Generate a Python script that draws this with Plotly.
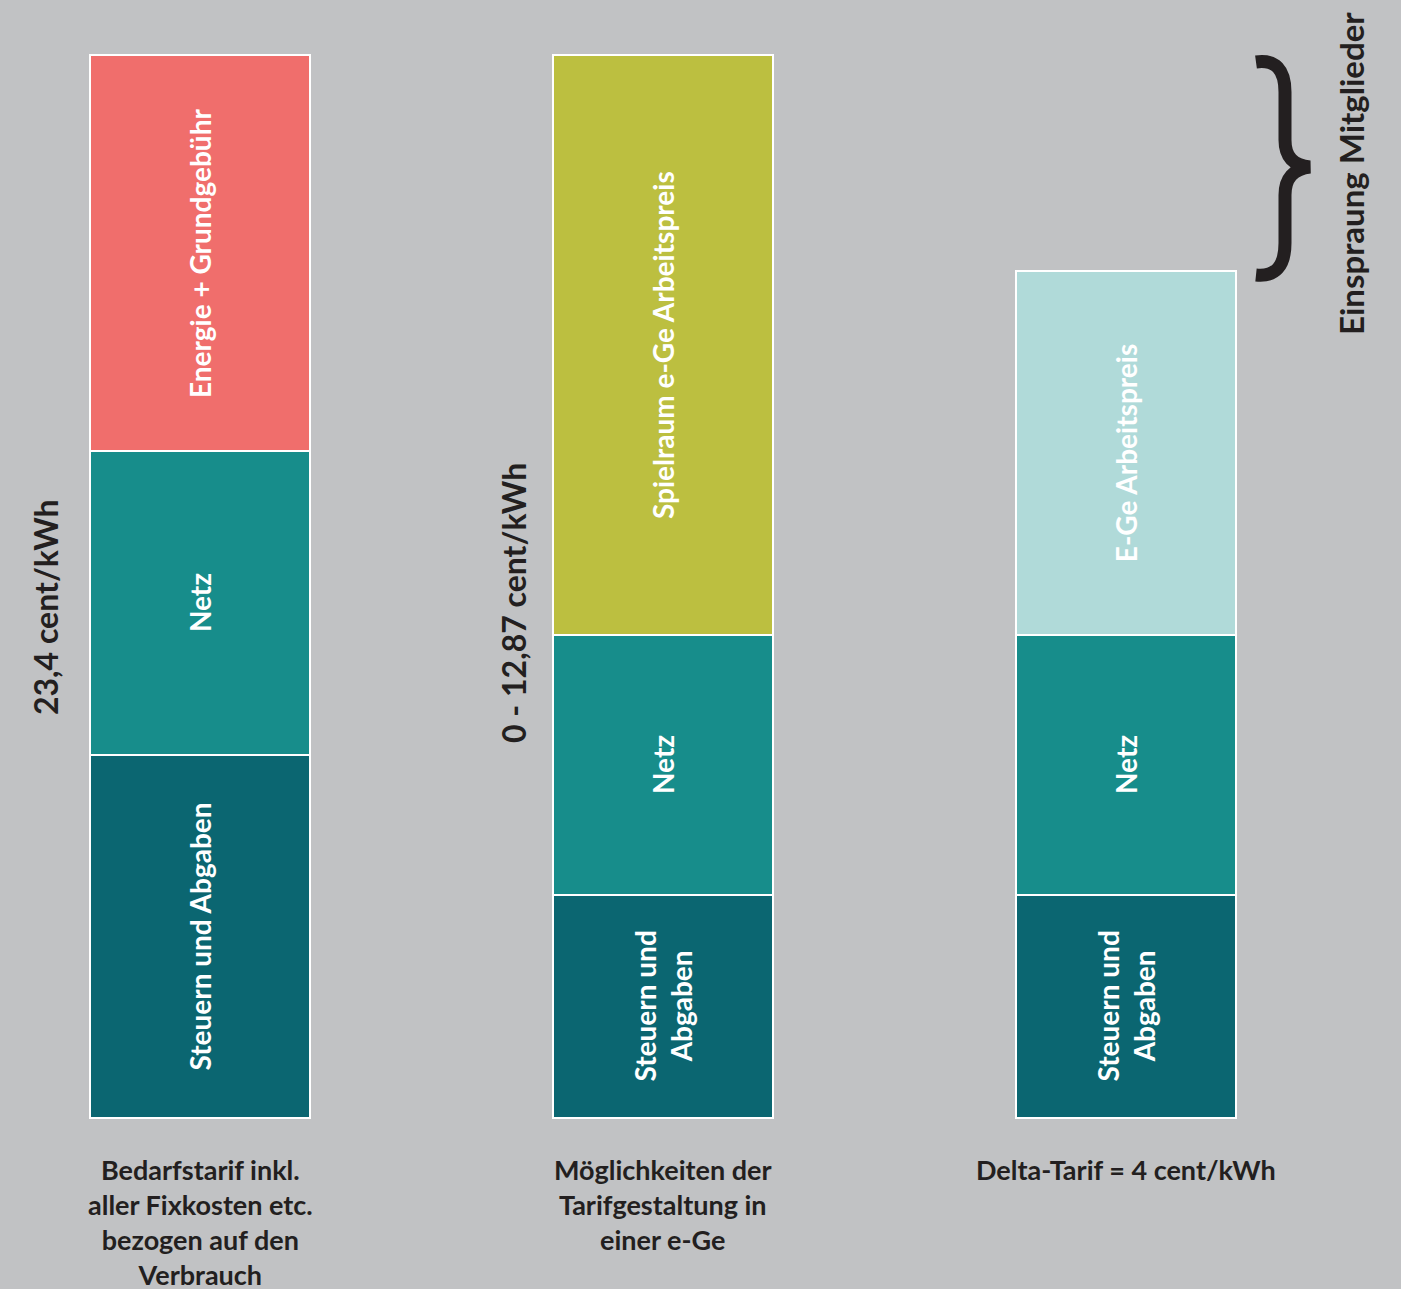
import plotly.graph_objects as go

# ---------------- data ----------------
categories = ["Bedarfstarif", "Möglichkeiten", "Delta-Tarif"]
steuern = [7.99, 4.91, 4.91]
netz = [6.69, 5.72, 5.72]
energie = [8.72, None, None]
spielraum = [None, 12.77, None]
ege_arbeitspreis = [None, None, 8.01]

seg_labels_steuern = ["Steuern und Abgaben", "Steuern und<br>Abgaben", "Steuern und<br>Abgaben"]
seg_labels_netz = ["Netz", "Netz", "Netz"]
top_labels = ["Energie + Grundgebühr", "Spielraum e-Ge Arbeitspreis", "E-Ge Arbeitspreis"]
bottom_labels = [
    "Bedarfstarif inkl.<br>aller Fixkosten etc.<br>bezogen auf den<br>Verbrauch",
    "Möglichkeiten der<br>Tarifgestaltung in<br>einer e-Ge",
    "Delta-Tarif = 4 cent/kWh",
]
side_labels = ["23,4 cent/kWh", "0 - 12,87 cent/kWh"]
brace_label = "Einspraung Mitglieder"

# ---------------- style ----------------
W, H = 1401, 1289
BG = "#c1c2c4"
C_STEUERN = "#0b6671"
C_NETZ = "#178d8b"
C_ENERGIE = "#f06e6c"
C_SPIEL = "#bcbf40"
C_EGE = "#b0dad9"
DARK = "#231f20"
FONT = "Lato"

x_idx = list(range(len(categories)))
bar_w = 0.475
line = dict(color="white", width=2.5)

fig = go.Figure()
for name, vals, col in [
    ("Steuern und Abgaben", steuern, C_STEUERN),
    ("Netz", netz, C_NETZ),
    ("Energie + Grundgebühr", energie, C_ENERGIE),
    ("Spielraum e-Ge Arbeitspreis", spielraum, C_SPIEL),
    ("E-Ge Arbeitspreis", ege_arbeitspreis, C_EGE),
]:
    fig.add_trace(go.Bar(
        x=x_idx, y=vals, name=name, width=bar_w,
        marker=dict(color=col, line=line),
        hovertext=categories, showlegend=False,
    ))

def px2paper(px, py):
    return px / W, 1 - py / H

annotations = []
inner_font = dict(family=FONT, size=28, color="white", weight=700)
for i in x_idx:
    tops = [energie[i], spielraum[i], ege_arbeitspreis[i]]
    top_val = next(v for v in tops if v is not None)
    for yv, txt in [(steuern[i] / 2, seg_labels_steuern[i]),
                    (steuern[i] + netz[i] / 2, seg_labels_netz[i]),
                    (steuern[i] + netz[i] + top_val / 2, top_labels[i])]:
        annotations.append(dict(x=i, y=yv, text=txt, textangle=-90, showarrow=False,
                                xanchor="center", yanchor="middle", font=inner_font))
    _, yb = px2paper(0, 1151)
    annotations.append(dict(x=i, y=yb, yref="paper", yanchor="top", xanchor="center",
                            text=bottom_labels[i], showarrow=False, align="center",
                            font=dict(family=FONT, size=27, color=DARK, weight=700)))

for (px, py), txt, sz in zip([(45, 607), (513, 603)], side_labels, [32, 32]):
    xp, yp = px2paper(px, py)
    annotations.append(dict(x=xp, y=yp, xref="paper", yref="paper", text=txt,
                            textangle=-90, showarrow=False, xanchor="center", yanchor="middle",
                            font=dict(family=FONT, size=sz, color=DARK, weight=700)))
xp, yp = px2paper(1351, 174)
annotations.append(dict(x=xp, y=yp, xref="paper", yref="paper", text=brace_label,
                        textangle=-90, showarrow=False, xanchor="center", yanchor="middle",
                        font=dict(family=FONT, size=33, color=DARK, weight=700)))

# curly brace
pts = [(1256, 62), (1285, 58), (1285, 92), (1285, 140), (1285, 165), (1310, 167),
       (1285, 170), (1285, 195), (1285, 243), (1285, 278), (1256, 275)]
pp = [px2paper(a, b) for a, b in pts]
f = lambda p: f"{p[0]:.5f},{p[1]:.5f}"
path = (f"M {f(pp[0])} Q {f(pp[1])} {f(pp[2])} L {f(pp[3])} Q {f(pp[4])} {f(pp[5])} "
        f"Q {f(pp[6])} {f(pp[7])} L {f(pp[8])} Q {f(pp[9])} {f(pp[10])}")

fig.update_layout(
    width=W, height=H, barmode="stack",
    paper_bgcolor=BG, plot_bgcolor=BG,
    margin=dict(l=0, r=0, t=0, b=0),
    xaxis=dict(range=[-200 / 463, (W - 200) / 463], visible=False, fixedrange=True),
    yaxis=dict(range=[-171 / 45.427, 1118 / 45.427], visible=False, fixedrange=True),
    annotations=annotations,
    shapes=[dict(type="path", path=path, xref="paper", yref="paper",
                 line=dict(color=DARK, width=13))],
)

fig.write_html(
    "out.html",
    config={"displayModeBar": False},
    post_script="document.body.style.margin='0';document.body.style.overflow='hidden';"
                "document.body.style.background='" + BG + "';",
)
